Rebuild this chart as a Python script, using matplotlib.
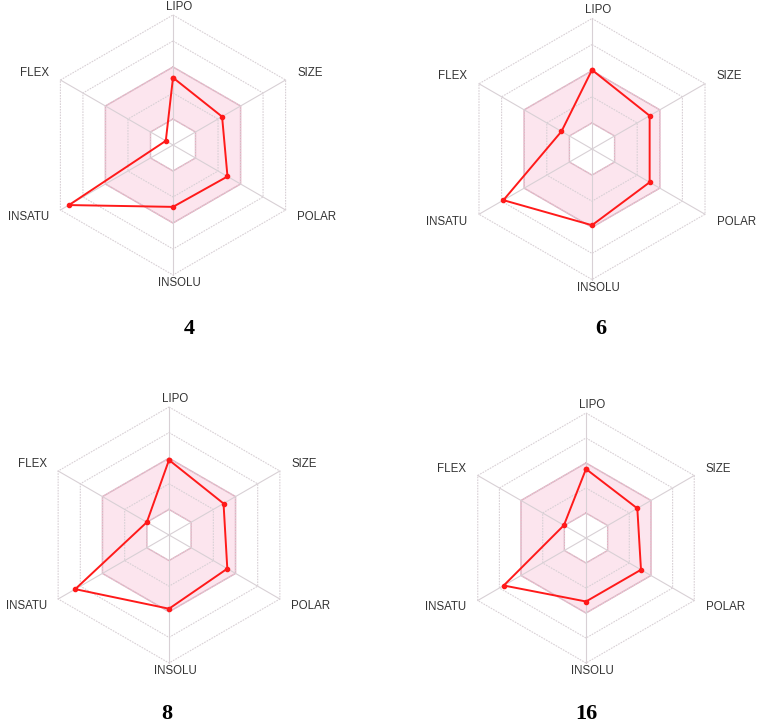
import numpy as np
import matplotlib.pyplot as plt

axes_names = ["LIPO", "SIZE", "POLAR", "INSOLU", "INSATU", "FLEX"]
angles_deg = [90, 30, -30, -90, 210, 150]

compounds = ["4", "6", "8", "16"]
vals_4 = [2.59, 2.18, 2.42, 2.38, 4.62, 0.32]
vals_6 = [3.03, 2.55, 2.55, 2.92, 3.92, 1.35]
vals_8 = [2.93, 2.46, 2.63, 2.88, 4.23, 1.00]
vals_16 = [2.76, 2.37, 2.54, 2.54, 3.80, 1.02]
all_vals = [vals_4, vals_6, vals_8, vals_16]

# panel centre (px), px per ring, title position (px)
panels = [
    ((173, 145), 26.0, (189, 329)),
    ((592, 149), 26.1, (601, 329)),
    ((169, 535), 25.6, (167, 714)),
    ((586, 538), 25.0, (586, 714)),
]

W, H = 760, 725
fig = plt.figure(figsize=(W / 100, H / 100), dpi=100)

ang = np.deg2rad(angles_deg)
ux, uy = np.cos(ang), np.sin(ang)


def hexagon(r):
    return np.append(ux * r, ux[0] * r), np.append(uy * r, uy[0] * r)


grid_col = "#d8d0d5"
label_col = "#333333"

for name, vals, (cen, unit, tpos) in zip(compounds, all_vals, panels):
    cx, cy = cen
    half = 180
    ax = fig.add_axes([(cx - half) / W, 1 - (cy + half) / H, 2 * half / W, 2 * half / H])
    lim = half / unit
    ax.set_xlim(-lim, lim)
    ax.set_ylim(-lim, lim)
    ax.set_aspect("equal")
    ax.axis("off")

    # optimal range band
    ox, oy = hexagon(3)
    ix, iy = hexagon(1)
    ax.fill(ox, oy, color="#fce5ee", zorder=1)
    ax.fill(ix, iy, color="white", zorder=1)
    ax.plot(ox, oy, color="#e6abbf", lw=1.0, zorder=2)
    ax.plot(ix, iy, color="#e6abbf", lw=1.0, zorder=2)

    # grid rings and spokes
    for r in range(1, 6):
        hx, hy = hexagon(r)
        ax.plot(hx, hy, color=grid_col, lw=0.8, ls=(0, (1.5, 1.0)), zorder=2)
    for x, y in zip(ux, uy):
        ax.plot([0, 5 * x], [0, 5 * y], color=grid_col, lw=0.8, zorder=2)

    # compound profile
    v = np.array(vals)
    px = np.append(ux * v, ux[0] * v[0])
    py = np.append(uy * v, uy[0] * v[0])
    ax.plot(px, py, color="#ff1a1a", lw=1.4, marker="o", ms=3, zorder=4)

    # axis labels
    for lab, x, y in zip(axes_names, ux, uy):
        if abs(x) < 0.1:
            ax.text(0.25, 5.32 * np.sign(y), lab, ha="center", va="center",
                    fontsize=8.3, color=label_col, family="Liberation Sans")
        else:
            ax.text(5 * x + 0.45 * np.sign(x), 5 * y + 0.28 * np.sign(y), lab,
                    ha="left" if x > 0 else "right", va="center",
                    fontsize=8.3, color=label_col, family="Liberation Sans")

    fig.text(tpos[0] / W, 1 - tpos[1] / H, name, ha="center", va="center",
             fontsize=16, fontweight="bold", family="Liberation Serif")

fig.savefig("out.png", dpi=100)
